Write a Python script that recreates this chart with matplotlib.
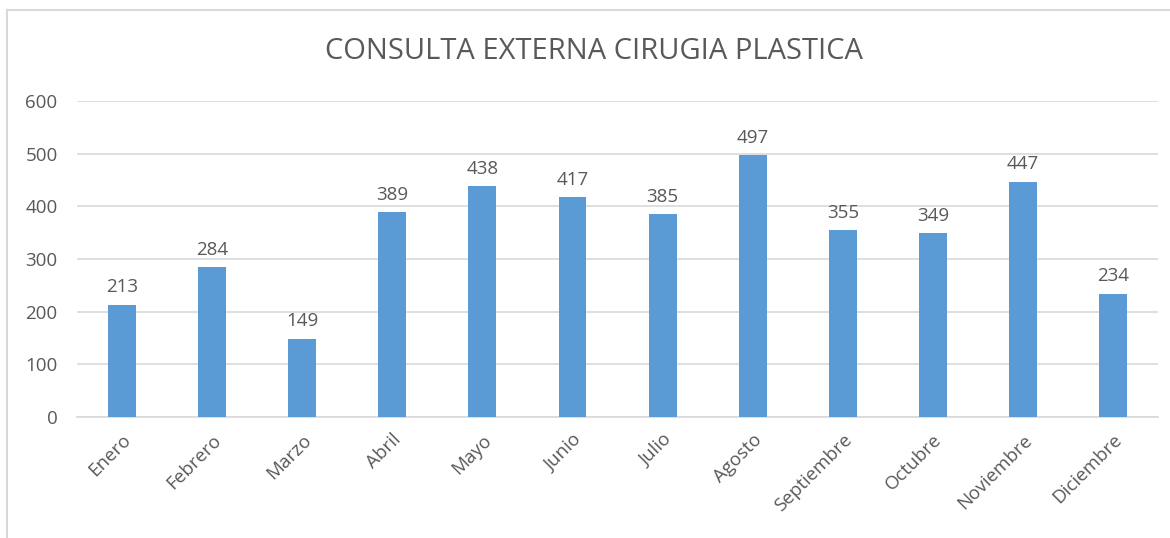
import matplotlib.pyplot as plt
from matplotlib.patches import Rectangle

meses = ["Enero", "Febrero", "Marzo", "Abril", "Mayo", "Junio", "Julio",
         "Agosto", "Septiembre", "Octubre", "Noviembre", "Diciembre"]
consultas = [213, 284, 149, 389, 438, 417, 385, 497, 355, 349, 447, 234]
yticks = [0, 100, 200, 300, 400, 500, 600]

texto = "#595959"
plt.rcParams['font.family'] = ['Open Sans', 'DejaVu Sans']

fig = plt.figure(figsize=(11.7, 5.38), dpi=100)
ax = fig.add_axes([0.0658, 0.225, 0.924, 0.587])

x = range(len(meses))
bars = ax.bar(x, consultas, width=0.31, color="#5B9BD5", zorder=3)
for b, v in zip(bars, consultas):
    ax.text(b.get_x() + b.get_width() / 2, v + 16, str(v), ha="center",
            va="bottom", fontsize=13.5, color=texto)

ax.set_xlim(-0.5, len(meses) - 0.5)
ax.set_ylim(0, 600)
ax.set_yticks(yticks)
ax.set_xticks(list(x))
ax.set_xticklabels(meses, rotation=45, ha="right", rotation_mode="anchor",
                   fontsize=13.5, color=texto)
ax.tick_params(axis="y", labelsize=13.5, labelcolor=texto, length=0, pad=14)
ax.tick_params(axis="x", length=0, pad=10)
ax.yaxis.grid(True, color="#D9D9D9", linewidth=1.2, zorder=0)
for s in ["top", "right", "left"]:
    ax.spines[s].set_visible(False)
ax.spines["bottom"].set_color("#D9D9D9")
ax.spines["bottom"].set_linewidth(1.2)

fig.text(0.508, 0.905, "CONSULTA EXTERNA CIRUGIA PLASTICA", ha="center",
         va="center", fontsize=21, color=texto)

# marco del grafico (recortado a la derecha y abajo)
fig.patches.append(Rectangle((0.006, -0.1), 1.1, 1.081, transform=fig.transFigure,
                             fill=False, edgecolor="#D9D9D9", linewidth=1.5))

fig.savefig("out.png", dpi=100, facecolor="white")
